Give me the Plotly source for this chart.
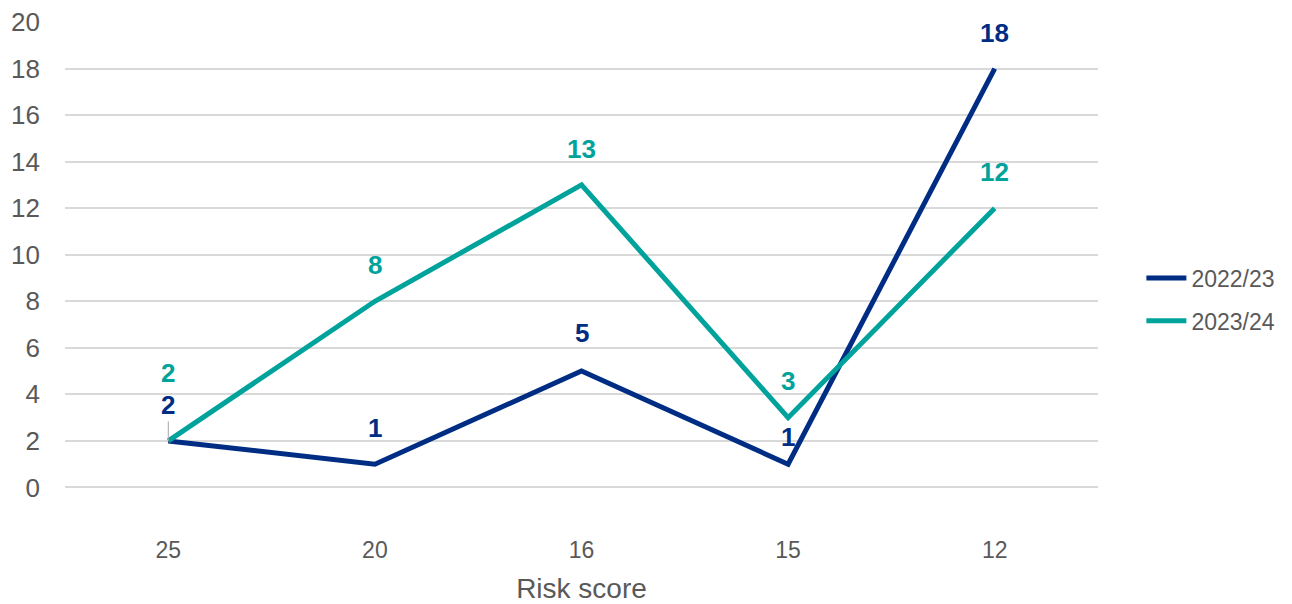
import plotly.graph_objects as go

# Risk score categories and counts per year
risk_scores = ["25", "20", "16", "15", "12"]
counts_2022_23 = [2, 1, 5, 1, 18]
counts_2023_24 = [2, 8, 13, 3, 12]
y_ticks = [0, 2, 4, 6, 8, 10, 12, 14, 16, 18, 20]

NAVY = "#002D84"
TEAL = "#00A39B"
GREY = "#595959"
FONT = "Liberation Sans, Arial, sans-serif"

# vertical pixel offsets for value labels
label_shift_22 = [0, 36, 38, 27, 36]
label_shift_23 = [68, 36, 36, 37, 36]

fig = go.Figure()
fig.add_trace(go.Scatter(x=risk_scores, y=counts_2022_23, mode="lines", name="2022/23",
                         legendgroup="a", line=dict(color=NAVY, width=5), cliponaxis=False))
fig.add_trace(go.Scatter(x=risk_scores, y=counts_2023_24, mode="lines", name="2023/24",
                         legendgroup="b", line=dict(color=TEAL, width=5), cliponaxis=False))

# category axis positions are addressed by index
annotations = []
for i, v in enumerate(counts_2022_23):
    if i == 0:
        # first label sits on a short leader line
        annotations.append(dict(x=i, y=v, xref="x", yref="y", text=f"<b>{v}</b>",
                                showarrow=True, arrowhead=0, arrowwidth=1,
                                arrowcolor="#A6A6A6", ax=0, ay=-36,
                                font=dict(color=NAVY, size=26, family=FONT)))
    else:
        annotations.append(dict(x=i, y=v, xref="x", yref="y", text=f"<b>{v}</b>",
                                showarrow=False, yshift=label_shift_22[i],
                                font=dict(color=NAVY, size=26, family=FONT)))
for i, v in enumerate(counts_2023_24):
    annotations.append(dict(x=i, y=v, xref="x", yref="y", text=f"<b>{v}</b>",
                            showarrow=False, yshift=label_shift_23[i],
                            font=dict(color=TEAL, size=26, family=FONT)))

fig.update_layout(
    width=1292, height=604,
    margin=dict(l=65, r=192, t=22, b=70),
    paper_bgcolor="white", plot_bgcolor="white",
    font=dict(family=FONT, color=GREY),
    annotations=annotations,
    xaxis=dict(type="category", range=[-0.5, 4.5], showgrid=False, showline=False,
               zeroline=False, ticks="", automargin=False,
               tickfont=dict(size=23, color=GREY),
               title=dict(text="Risk score", font=dict(size=28, color=GREY), standoff=16)),
    yaxis=dict(range=[-2, 20], tickvals=y_ticks, showgrid=True, gridcolor="#D9D9D9",
               gridwidth=2, zeroline=False, showline=False, ticks="", automargin=False,
               tickfont=dict(size=26, color=GREY), ticklabelstandoff=24),
    legend=dict(x=1.042, xanchor="left", y=0.458, yanchor="middle", xref="paper",
                font=dict(size=23, color=GREY), traceorder="grouped", tracegroupgap=10,
                itemwidth=40, bgcolor="rgba(0,0,0,0)"),
)

fig.write_html("out.html")
